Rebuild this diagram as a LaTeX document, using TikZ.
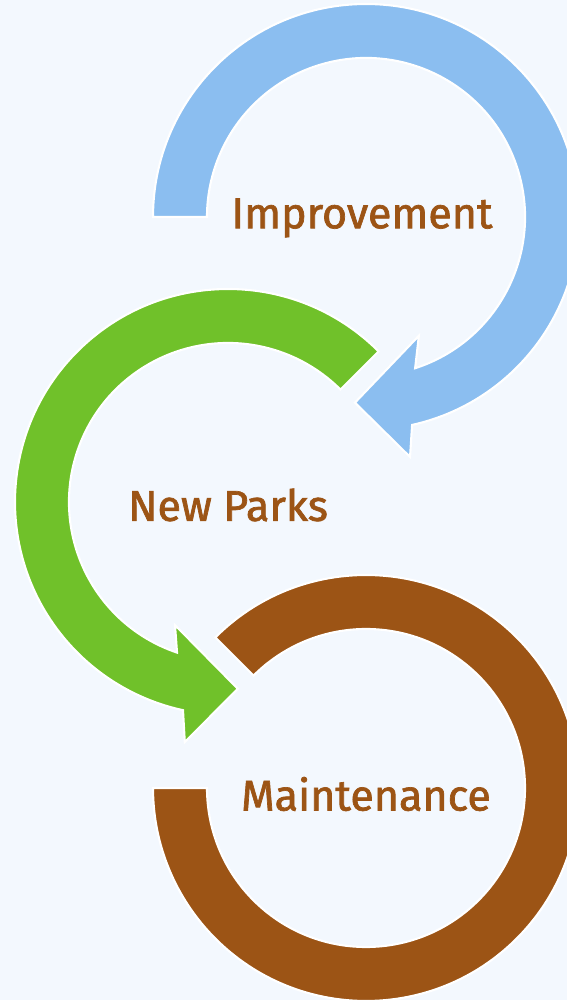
\documentclass[tikz,border=0pt]{standalone}
\usepackage{fontspec}
\setmainfont{Fira Sans}
\newfontfamily\stagefont{Fira Sans}[FakeBold=1.6]
\usepackage{xcolor}
\usepackage{tikz}

\definecolor{bgblue}{HTML}{F3F8FE}
\definecolor{ringblue}{HTML}{8BBEF0}
\definecolor{ringgreen}{HTML}{70C12A}
\definecolor{ringbrown}{HTML}{9C5415}

\begin{document}
\begin{tikzpicture}[x=0.02cm, y=0.02cm,
        ring/.style={draw=white, line width=1.2pt, line join=miter},
        stage/.style={font=\stagefont\fontsize{24.5}{30}\selectfont, text=ringbrown}]
        \fill[bgblue] (0,0) rectangle (567,1000);
        \useasboundingbox (0,0) rectangle (567,1000);
        % improvement ring, arrow towards the green one
        \begin{scope}[shift={(366,783)}]
            \filldraw[ring, fill=ringblue] (180:213) arc[start angle=180, end angle=-77.5, radius=213]
                -- (-79.6:244) -- (-93.4:186) -- (-66:130) -- (-72:159)
                arc[start angle=-72, end angle=180, radius=159] -- cycle;
        \end{scope}
        % new parks ring, arrow towards the brown one
        \begin{scope}[shift={(228,498)}]
            \filldraw[ring, fill=ringgreen] (45:213) arc[start angle=45, end angle=257.8, radius=213]
                -- (259.8:244) -- (273:187) -- (246.7:134) -- (251.3:159)
                arc[start angle=251.3, end angle=45, radius=159] -- cycle;
        \end{scope}
        % maintenance ring
        \begin{scope}[shift={(366,212)}]
            \filldraw[ring, fill=ringbrown] (135:213) arc[start angle=135, end angle=-180, radius=213]
                -- (-180:159) arc[start angle=-180, end angle=135, radius=159] -- cycle;
        \end{scope}
        \node[stage] (improve) at (362,782) {Improvement};
        \node[stage] (parks) at (228,495) {New Parks};
        \node[stage] (maint) at (366,206) {Maintenance};
    \end{tikzpicture}
\end{document}
